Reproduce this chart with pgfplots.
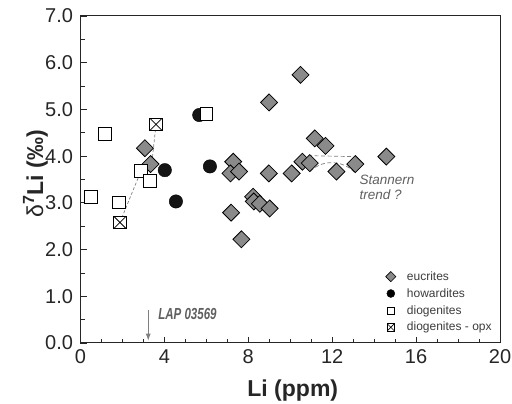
\documentclass[border=0pt]{standalone}
\usepackage{fontspec}
\setmainfont{Liberation Sans}
\usepackage{graphicx}
\usepackage{pgfplots}
\usetikzlibrary{arrows.meta}
\pgfplotsset{compat=1.18}
\definecolor{dgray}{RGB}{138,138,138}
\definecolor{txtgray}{RGB}{95,95,95}
\definecolor{legtxt}{RGB}{60,60,60}
\pgfdeclareplotmark{boxx}{%
  \pgfpathrectangle{\pgfqpoint{-\pgfplotmarksize}{-\pgfplotmarksize}}{\pgfqpoint{2\pgfplotmarksize}{2\pgfplotmarksize}}%
  \pgfusepathqfillstroke
  \pgfpathmoveto{\pgfqpoint{-\pgfplotmarksize}{-\pgfplotmarksize}}%
  \pgfpathlineto{\pgfqpoint{\pgfplotmarksize}{\pgfplotmarksize}}%
  \pgfpathmoveto{\pgfqpoint{-\pgfplotmarksize}{\pgfplotmarksize}}%
  \pgfpathlineto{\pgfqpoint{\pgfplotmarksize}{-\pgfplotmarksize}}%
  \pgfusepathqstroke
}
\pgfplotstableread{
x y
3.07 4.17
3.34 3.83
7.28 3.88
7.15 3.63
7.56 3.67
8.98 3.63
8.99 5.15
10.07 3.63
10.49 5.74
7.18 2.79
7.67 2.22
8.23 3.13
8.26 3.03
8.55 2.98
9.02 2.88
11.17 4.38
11.68 4.22
14.58 3.99
10.58 3.88
10.93 3.85
12.20 3.67
13.10 3.83
}\eucrites
\pgfplotstableread{
x y
4.02 3.70
6.17 3.78
4.55 3.03
5.66 4.88
}\howardites
\pgfplotstableread{
x y
6.00 4.90
1.17 4.48
0.50 3.13
1.83 3.01
2.88 3.68
3.31 3.47
}\diogenites
\pgfplotstableread{
x y
3.60 4.68
1.88 2.58
}\opx
\begin{document}
\begin{tikzpicture}
\begin{axis}[
  scale only axis, width=419.5pt, height=327pt,
  xmin=0, xmax=20, ymin=0, ymax=7,
  xtick={0,4,...,20}, minor x tick num=3,
  ytick={0,1,...,7}, minor y tick num=1,
  tick align=inside, xtick pos=bottom, ytick pos=left,
  major tick length=6pt, minor tick length=4pt,
  axis line style={line width=1pt, black!85},
  tick style={line width=0.8pt, black!85},
  every tick label/.style={font=\fontsize{20}{22}\selectfont, text=black!85},
  /pgf/number format/assume math mode=true,
  yticklabel style={/pgf/number format/.cd, fixed, fixed zerofill, precision=1, /tikz/.cd, xshift=-4pt},
  xticklabel style={/pgf/number format/.cd, fixed, precision=0, /tikz/.cd, yshift=-3pt},
  xlabel={\bfseries Li (ppm)},
  ylabel={δ\textsuperscript{\bfseries 7}\bfseries Li (‰)},
  label style={font=\fontsize{23}{26}\selectfont, text=black!85},
  xlabel style={at={(axis cs:10.12,0)}, anchor=center, yshift=-48pt},
  ylabel style={at={(axis description cs:0,0.517)}, anchor=center, rotate=0, yshift=45pt},
  legend cell align=left,
  legend style={draw=none, fill=none, font=\fontsize{12}{14}\selectfont, text=legtxt,
    at={(axis cs:14.4,1.62)}, anchor=north west, row sep=2.7pt,
    /tikz/column 1/.style={column sep=9pt}},
  clip=false,
]
\coordinate (sw) at (rel axis cs:0,0);
\coordinate (ne) at (rel axis cs:1,1);
% tie lines
\addplot[forget plot, gray, dash pattern=on 3pt off 2pt, line width=0.7pt] coordinates {(3.60,4.68) (3.31,3.47)};
\addplot[forget plot, gray, dash pattern=on 3pt off 2pt, line width=0.7pt] coordinates {(1.88,2.58) (2.88,3.68)};
% Stannern trend
\draw[gray, dash pattern=on 4pt off 2.5pt, line width=0.7pt] (axis cs:10.85,4.01) -- (axis cs:13.0,3.99);
\draw[gray, dash pattern=on 4pt off 2.5pt, line width=0.7pt] (axis cs:10.95,3.67) .. controls (axis cs:11.4,3.9) and (axis cs:12.4,3.95) .. (axis cs:13.05,3.66);
\addplot[forget plot, only marks, mark=square*, mark size=6pt, mark options={rotate=45, fill=dgray, draw=black, line width=0.8pt}] table {\eucrites};
\addplot[forget plot, only marks, mark=*, mark size=6.7pt, mark options={fill=black!92, draw=black}] table {\howardites};
\addplot[forget plot, only marks, mark=square*, mark size=6.3pt, mark options={fill=white, draw=black, line width=0.8pt}] table {\diogenites};
\addplot[forget plot, only marks, mark=boxx, mark size=6.3pt, mark options={fill=white, draw=black, line width=0.8pt}] table {\opx};
% legend
\addlegendimage{only marks, mark=square*, mark size=3.6pt, mark options={rotate=45, fill=dgray, draw=black, line width=0.6pt}}
\addlegendentry{eucrites}
\addlegendimage{only marks, mark=*, mark size=4pt, mark options={fill=black, draw=black}}
\addlegendentry{howardites}
\addlegendimage{only marks, mark=square*, mark size=3.6pt, mark options={fill=white, draw=black, line width=0.6pt}}
\addlegendentry{diogenites}
\addlegendimage{only marks, mark=boxx, mark size=3.6pt, mark options={fill=white, draw=black, line width=0.6pt}}
\addlegendentry{diogenites - opx}
% annotations
\node[anchor=base west, text=txtgray, inner sep=0pt, font=\fontsize{13.5}{14}\selectfont\itshape] at (axis cs:13.3,3.40) {Stannern};
\node[anchor=base west, text=txtgray, inner sep=0pt, font=\fontsize{13.5}{14}\selectfont\itshape] at (axis cs:13.3,3.07) {trend ?};
\draw[-{Latex[length=7pt,width=5pt]}, gray, line width=0.8pt] (axis cs:3.23,0.71) -- (axis cs:3.23,0.05);
\node[anchor=west, text=txtgray, inner sep=0pt] at (axis cs:3.7,0.62) {\scalebox{0.72}[1]{\fontsize{16}{16}\selectfont\bfseries\itshape LAP 03569}};
\end{axis}
\pgfresetboundingbox
\useasboundingbox ([shift={(-80.5pt,-61pt)}]sw) rectangle ([shift={(12pt,16pt)}]ne);
\end{tikzpicture}
\end{document}
